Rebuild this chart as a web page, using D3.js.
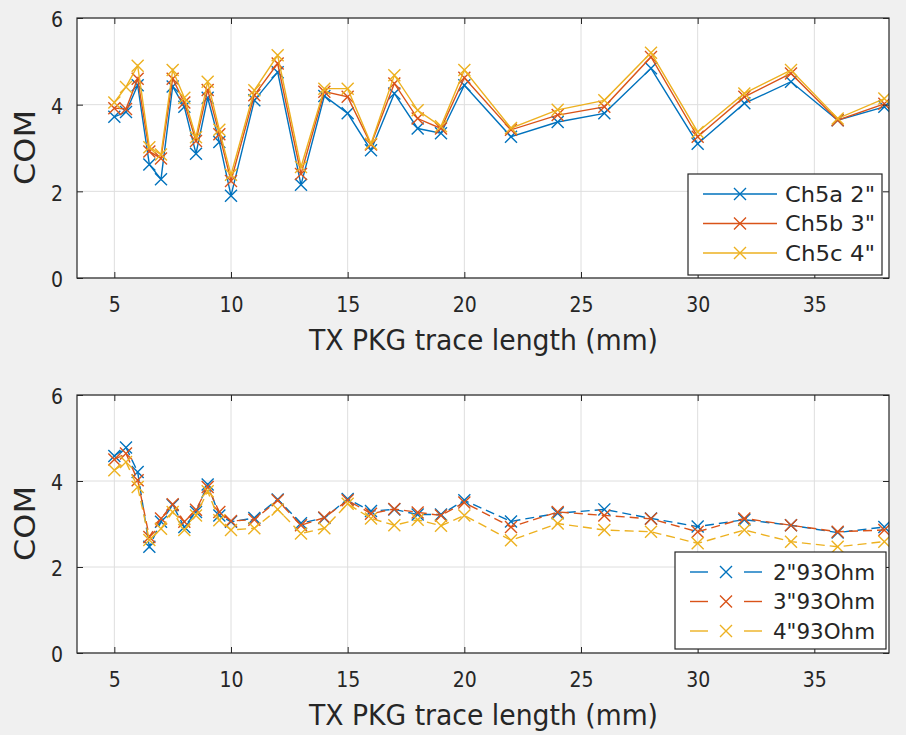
<!DOCTYPE html>
<html>
<head>
<meta charset="utf-8">
<script src="https://cdn.jsdelivr.net/npm/d3@7/dist/d3.min.js"></script>
<style>
body { margin: 0; background: #f0f0f0; }
svg { display: block; }
text { font-family: "DejaVu Sans Condensed", "Liberation Sans Narrow", "Arial Narrow", sans-serif; fill: #262626; }
</style>
</head>
<body>
<svg id="chart" width="906" height="735"></svg>
<script>
// trace length (mm)
const lengths = [5, 5.5, 6, 6.5, 7, 7.5, 8, 8.5, 9, 9.5, 10, 11, 12, 13, 14, 15, 16, 17, 18, 19, 20, 22, 24, 26, 28, 30, 32, 34, 36, 38]

// top plot - COM per channel
const ch5a = [3.72, 3.83, 4.45, 2.62, 2.28, 4.42, 3.95, 2.87, 4.16, 3.14, 1.9, 4.1, 4.75, 2.15, 4.2, 3.8, 2.95, 4.26, 3.45, 3.34, 4.45, 3.26, 3.6, 3.8, 4.84, 3.1, 4.03, 4.53, 3.64, 3.95]
const ch5b = [3.92, 3.9, 4.6, 2.92, 2.76, 4.6, 4.05, 3.16, 4.34, 3.32, 2.24, 4.22, 4.95, 2.4, 4.3, 4.18, 3.08, 4.49, 3.68, 3.45, 4.62, 3.42, 3.76, 3.95, 5.1, 3.26, 4.18, 4.72, 3.64, 4.02]
const ch5c = [4.05, 4.41, 4.9, 3.02, 2.85, 4.8, 4.16, 3.25, 4.53, 3.42, 2.38, 4.33, 5.14, 2.56, 4.37, 4.37, 3.1, 4.68, 3.87, 3.5, 4.8, 3.46, 3.88, 4.1, 5.2, 3.37, 4.26, 4.8, 3.68, 4.14]

// bottom plot - 93 Ohm
const ohm2 = [4.58, 4.78, 4.21, 2.47, 3.05, 3.44, 2.93, 3.28, 3.92, 3.2, 3.05, 3.14, 3.57, 3.02, 3.14, 3.58, 3.3, 3.34, 3.22, 3.22, 3.55, 3.06, 3.25, 3.34, 3.13, 2.94, 3.1, 2.97, 2.8, 2.93]
const ohm3 = [4.5, 4.64, 4.02, 2.7, 3.13, 3.46, 3.05, 3.33, 3.86, 3.28, 3.07, 3.1, 3.55, 2.97, 3.15, 3.55, 3.24, 3.35, 3.27, 3.2, 3.5, 2.93, 3.28, 3.2, 3.12, 2.82, 3.13, 2.97, 2.82, 2.86]
const ohm4 = [4.25, 4.44, 3.86, 2.63, 2.89, 3.28, 2.86, 3.2, 3.76, 3.09, 2.86, 2.9, 3.34, 2.78, 2.9, 3.47, 3.13, 2.97, 3.1, 2.96, 3.2, 2.62, 3.01, 2.86, 2.82, 2.55, 2.86, 2.59, 2.47, 2.59]

const xTicks = [5, 10, 15, 20, 25, 30, 35]
const yTicks = [0, 2, 4, 6]
const colors = ["#0072bd", "#d95319", "#edb120"]

const topNames = ['Ch5a 2"', 'Ch5b 3"', 'Ch5c 4"']
const botNames = ['2"93Ohm', '3"93Ohm', '4"93Ohm']

const svg = d3.select("#chart")

function drawPanel(box, series, names, dashed, legendBox, id) {
    let xScale = d3.scaleLinear().domain([3.4, 38.2]).range([box.left, box.right])
    let yScale = d3.scaleLinear().domain([0, 6]).range([box.bottom, box.top])

    let g = svg.append("g")

    g.append("rect")
        .attr("x", box.left).attr("y", box.top)
        .attr("width", box.right - box.left).attr("height", box.bottom - box.top)
        .attr("fill", "#fff")

    // grid
    g.selectAll(".gx").data(xTicks).enter().append("line")
        .attr("x1", d => xScale(d)).attr("x2", d => xScale(d))
        .attr("y1", box.top).attr("y2", box.bottom)
        .attr("stroke", "#dedede").attr("stroke-width", 1)
    g.selectAll(".gy").data(yTicks).enter().append("line")
        .attr("y1", d => yScale(d)).attr("y2", d => yScale(d))
        .attr("x1", box.left).attr("x2", box.right)
        .attr("stroke", "#dedede").attr("stroke-width", 1)

    g.append("clipPath").attr("id", "clip" + id)
        .append("rect")
        .attr("x", box.left).attr("y", box.top)
        .attr("width", box.right - box.left).attr("height", box.bottom - box.top)

    let plot = g.append("g").attr("clip-path", "url(#clip" + id + ")")
    let line = d3.line().x((d, i) => xScale(lengths[i])).y(d => yScale(d))

    series.forEach((s, k) => {
        plot.append("path")
            .attr("d", line(s))
            .attr("fill", "none")
            .attr("stroke", colors[k])
            .attr("stroke-width", 1.4)
            .attr("stroke-dasharray", dashed ? "9,5" : null)
        s.forEach((v, i) => {
            drawCross(plot, xScale(lengths[i]), yScale(v), colors[k], 6)
        })
    })

    // axes (ticks inside, box)
    let axB = d3.axisBottom(xScale).tickValues(xTicks).tickSizeInner(-6).tickSizeOuter(0).tickPadding(19)
    let axT = d3.axisTop(xScale).tickValues(xTicks).tickSizeInner(-6).tickSizeOuter(0).tickFormat("")
    let axL = d3.axisLeft(yScale).tickValues(yTicks).tickSizeInner(-6).tickSizeOuter(0).tickPadding(14).tickFormat(d3.format("d"))
    let axR = d3.axisRight(yScale).tickValues(yTicks).tickSizeInner(-6).tickSizeOuter(0).tickFormat("")

    let gb = g.append("g").attr("transform", "translate(0," + box.bottom + ")").call(axB)
    g.append("g").attr("transform", "translate(0," + box.top + ")").call(axT)
    let gl = g.append("g").attr("transform", "translate(" + box.left + ",0)").call(axL)
    g.append("g").attr("transform", "translate(" + box.right + ",0)").call(axR)

    g.selectAll(".domain").remove()
    g.selectAll(".tick line").attr("stroke", "#262626")
    gb.selectAll("text").attr("font-size", "21px").attr("fill", "#262626")
    gl.selectAll("text").attr("font-size", "21px").attr("fill", "#262626").attr("dy", "0.42em")

    g.append("rect")
        .attr("x", box.left).attr("y", box.top)
        .attr("width", box.right - box.left).attr("height", box.bottom - box.top)
        .attr("fill", "none").attr("stroke", "#262626").attr("stroke-width", 1.2)

    // labels
    g.append("text")
        .attr("x", 309).attr("y", box.bottom + 72)
        .attr("font-size", "28px")
        .attr("textLength", 349).attr("lengthAdjust", "spacingAndGlyphs")
        .text("TX PKG trace length (mm)")
    g.append("text")
        .attr("transform", "translate(35," + ((box.top + box.bottom) / 2) + ") rotate(-90)")
        .attr("x", -37)
        .attr("font-size", "28px")
        .attr("textLength", 75).attr("lengthAdjust", "spacingAndGlyphs")
        .text("COM")

    // legend
    let lg = g.append("g")
    lg.append("rect")
        .attr("x", legendBox.x).attr("y", legendBox.y)
        .attr("width", legendBox.w).attr("height", legendBox.h)
        .attr("fill", "#fff").attr("stroke", "#262626").attr("stroke-width", 1.2)
    names.forEach((n, k) => {
        let yy = legendBox.y + 20 + k * 29.5
        if (dashed) {
            lg.append("line").attr("x1", legendBox.x + 15).attr("x2", legendBox.x + 33)
                .attr("y1", yy).attr("y2", yy).attr("stroke", colors[k]).attr("stroke-width", 1.4)
            lg.append("line").attr("x1", legendBox.x + 69).attr("x2", legendBox.x + 87)
                .attr("y1", yy).attr("y2", yy).attr("stroke", colors[k]).attr("stroke-width", 1.4)
            drawCross(lg, legendBox.x + 51, yy, colors[k], 6)
        } else {
            lg.append("line").attr("x1", legendBox.x + 15).attr("x2", legendBox.x + 89)
                .attr("y1", yy).attr("y2", yy).attr("stroke", colors[k]).attr("stroke-width", 1.4)
            drawCross(lg, legendBox.x + 52, yy, colors[k], 6)
        }
        lg.append("text")
            .attr("x", legendBox.x + legendBox.textX).attr("y", yy).attr("dy", "0.36em")
            .attr("font-size", "22px")
            .attr("textLength", legendBox.textW).attr("lengthAdjust", "spacingAndGlyphs")
            .text(n)
    })
}

function drawCross(sel, cx, cy, color, r) {
    sel.append("path")
        .attr("d", "M" + (cx - r) + "," + (cy - r) + "L" + (cx + r) + "," + (cy + r) +
            "M" + (cx - r) + "," + (cy + r) + "L" + (cx + r) + "," + (cy - r))
        .attr("stroke", color).attr("stroke-width", 1.4).attr("fill", "none")
}

drawPanel({ left: 77, right: 889, top: 18, bottom: 278 },
    [ch5a, ch5b, ch5c], topNames, false,
    { x: 688, y: 174, w: 194, h: 101, textX: 97, textW: 90 }, "top")

drawPanel({ left: 77, right: 889, top: 395, bottom: 653 },
    [ohm2, ohm3, ohm4], botNames, true,
    { x: 675, y: 552, w: 211, h: 97, textX: 98, textW: 102 }, "bot")
</script>
</body>
</html>
